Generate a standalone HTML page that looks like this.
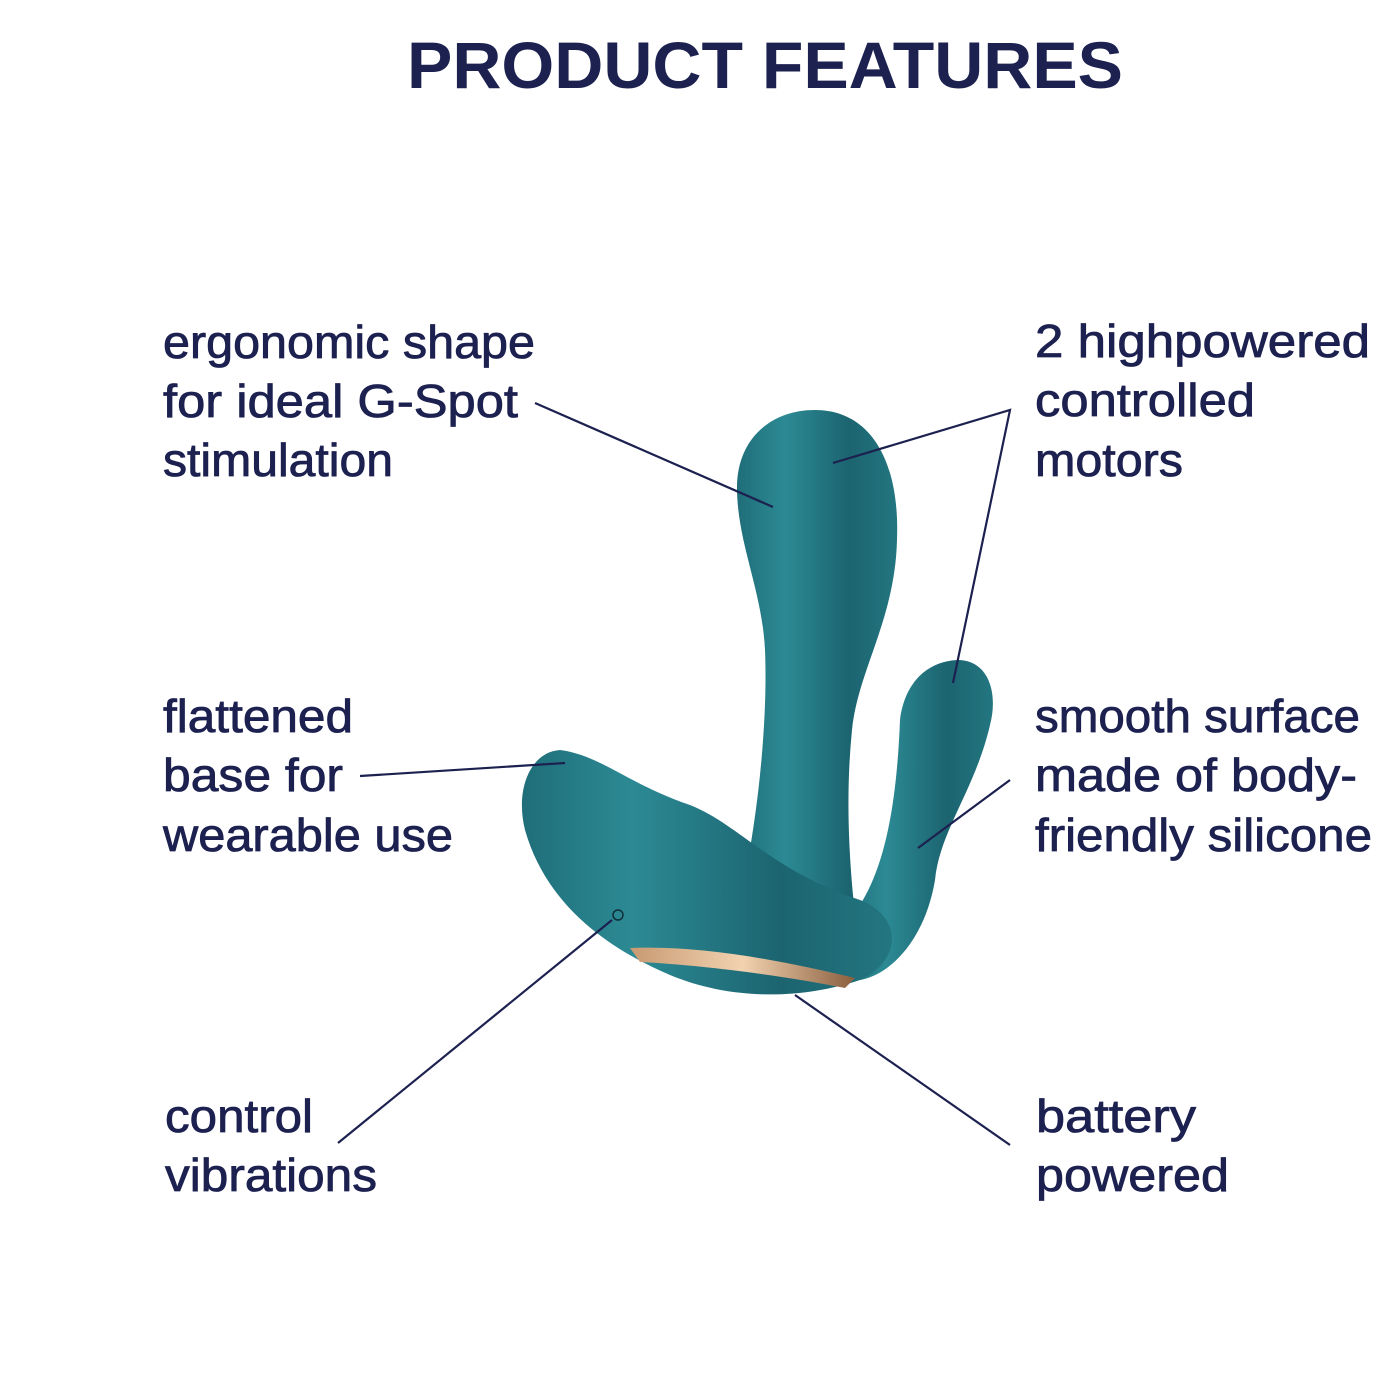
<!DOCTYPE html>
<html><head><meta charset="utf-8"><style>
html,body{margin:0;padding:0;background:#fff}
svg{display:block}
text{font-family:"Liberation Sans",sans-serif;fill:#1c2150}
.b text{stroke:#1c2150;stroke-width:0.8}
</style></head><body>
<svg width="1400" height="1400" viewBox="0 0 1400 1400" xmlns="http://www.w3.org/2000/svg">
<defs>
<linearGradient id="g" x1="0" y1="0" x2="1" y2="0">
<stop offset="0" stop-color="#1f6e79"/><stop offset="0.3" stop-color="#2c8a94"/><stop offset="0.7" stop-color="#1b6470"/><stop offset="1" stop-color="#237680"/>
</linearGradient>
<linearGradient id="gold" x1="0" y1="0" x2="1" y2="0">
<stop offset="0" stop-color="#c79a72"/><stop offset="0.5" stop-color="#f2d2b0"/><stop offset="1" stop-color="#8a5f3e"/>
</linearGradient>
</defs>
<text x="765" y="88" font-size="66" font-weight="bold" text-anchor="middle" textLength="716" lengthAdjust="spacingAndGlyphs">PRODUCT FEATURES</text>

<g font-size="46" class="b">
<text x="163" y="358" textLength="372" lengthAdjust="spacingAndGlyphs">ergonomic shape</text>
<text x="163" y="417" textLength="355" lengthAdjust="spacingAndGlyphs">for ideal G-Spot</text>
<text x="163" y="476" textLength="230" lengthAdjust="spacingAndGlyphs">stimulation</text>
<text x="163" y="732" textLength="190" lengthAdjust="spacingAndGlyphs">flattened</text>
<text x="163" y="791" textLength="180" lengthAdjust="spacingAndGlyphs">base for</text>
<text x="163" y="851" textLength="290" lengthAdjust="spacingAndGlyphs">wearable use</text>
<text x="165" y="1132" textLength="148" lengthAdjust="spacingAndGlyphs">control</text>
<text x="165" y="1191" textLength="212" lengthAdjust="spacingAndGlyphs">vibrations</text>
<text x="1035" y="357" textLength="335" lengthAdjust="spacingAndGlyphs">2 highpowered</text>
<text x="1035" y="416" textLength="220" lengthAdjust="spacingAndGlyphs">controlled</text>
<text x="1035" y="476" textLength="148" lengthAdjust="spacingAndGlyphs">motors</text>
<text x="1035" y="732" textLength="325" lengthAdjust="spacingAndGlyphs">smooth surface</text>
<text x="1035" y="791" textLength="322" lengthAdjust="spacingAndGlyphs">made of body-</text>
<text x="1035" y="851" textLength="337" lengthAdjust="spacingAndGlyphs">friendly silicone</text>
<text x="1036" y="1132" textLength="160" lengthAdjust="spacingAndGlyphs">battery</text>
<text x="1036" y="1191" textLength="193" lengthAdjust="spacingAndGlyphs">powered</text>
</g>

<!-- product -->
<g fill="url(#g)">
<path d="M900,720 C905,680 930,660 960,660 C990,662 998,695 990,725 C975,790 940,830 935,880 C925,940 890,975 860,980 L840,930 C870,900 895,850 900,720 Z"/>
<path d="M815,410 C870,410 900,460 897,540 C895,620 858,670 852,730 C846,790 848,850 855,915 L740,900 C758,820 768,720 765,650 C762,590 738,545 737,490 C736,440 770,410 815,410 Z"/>
<path d="M560,750 C600,755 630,785 690,805 C740,825 770,870 860,900 C905,918 900,962 860,980 C800,1000 730,1000 670,975 C600,945 545,900 525,830 C515,790 530,752 560,750 Z"/>
</g>
<path d="M630,948 C700,945 780,960 855,978 L845,988 C780,975 700,965 640,962 Z" fill="url(#gold)"/>
<circle cx="618" cy="915" r="5" fill="none" stroke="#0f2f3a" stroke-width="1.5"/>

<g stroke="#1c2150" stroke-width="2.2" fill="none">
<line x1="535" y1="403" x2="773" y2="507"/>
<polyline points="833,463 1010,410 953,683"/>
<line x1="360" y1="776" x2="565" y2="763"/>
<line x1="918" y1="848" x2="1010" y2="780"/>
<line x1="612" y1="920" x2="338" y2="1143"/>
<line x1="795" y1="995" x2="1010" y2="1145"/>
</g>
</svg>
</body></html>
